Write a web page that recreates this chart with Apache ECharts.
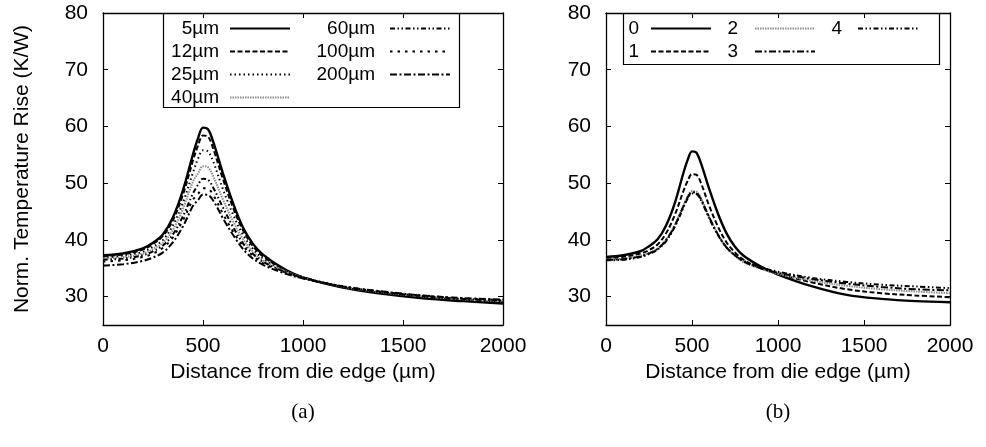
<!DOCTYPE html>
<html>
<head>
<meta charset="utf-8">
<script src="https://cdn.jsdelivr.net/npm/echarts@6/dist/echarts.min.js"></script>
<style>
  html, body { margin: 0; padding: 0; background: #fff; }
  #chart { width: 986px; height: 447px; }
</style>
</head>
<body>
<div id="chart"></div>
<script>
// Distance from die edge (µm) at which every curve is sampled
const distance = [0, 100, 200, 250, 300, 350, 400, 450, 475, 500, 525, 550, 600, 650, 700, 750, 800, 900, 1000, 1200, 1400, 1600, 1800, 2000];
const xTicks = [0, 500, 1000, 1500, 2000];
const yTicks = [30, 40, 50, 60, 70, 80];

// Panel (a): normalised temperature rise (K/W) per thickness
const namesA = ['5µm', '12µm', '25µm', '40µm', '60µm', '100µm', '200µm'];
const a5   = [37.3, 37.6, 38.5, 39.5, 41.0, 44.0, 48.8, 55.1, 57.9, 59.8, 59.5, 57.4, 51.7, 46.5, 42.2, 39.3, 37.4, 35.0, 33.4, 31.6, 30.5, 29.7, 29.2, 28.8];
const a12  = [37.1, 37.45, 38.3, 39.3, 40.7, 43.5, 48.0, 54.0, 56.6, 58.4, 58.2, 56.2, 50.7, 45.7, 41.7, 38.9, 37.1, 34.9, 33.4, 31.65, 30.6, 29.85, 29.35, 29.0];
const a25  = [36.9, 37.2, 37.9, 38.8, 40.0, 42.6, 46.6, 51.9, 54.3, 55.8, 55.6, 53.9, 48.9, 44.5, 40.9, 38.4, 36.7, 34.8, 33.4, 31.7, 30.7, 29.95, 29.45, 29.1];
const a40  = [36.7, 36.95, 37.6, 38.4, 39.5, 41.8, 45.5, 50.3, 51.7, 53.0, 52.8, 51.3, 47.1, 43.3, 40.1, 37.9, 36.4, 34.65, 33.35, 31.75, 30.75, 30.05, 29.55, 29.2];
const a60  = [36.5, 36.7, 37.3, 38.0, 39.0, 41.0, 44.2, 48.2, 49.7, 50.8, 50.6, 49.3, 45.7, 42.3, 39.4, 37.5, 36.15, 34.5, 33.35, 31.8, 30.8, 30.1, 29.6, 29.3];
const a100 = [36.2, 36.4, 37.0, 37.6, 38.6, 40.5, 43.5, 47.1, 48.1, 49.1, 49.0, 48.0, 44.6, 41.5, 38.95, 37.2, 35.9, 34.4, 33.3, 31.8, 30.85, 30.15, 29.7, 29.4];
const a200 = [35.5, 35.7, 36.3, 36.9, 37.8, 39.6, 42.4, 46.0, 47.0, 48.0, 47.9, 47.0, 43.8, 40.9, 38.4, 36.7, 35.6, 34.2, 33.2, 31.8, 30.9, 30.2, 29.75, 29.5];

// Panel (b): normalised temperature rise (K/W) per case 0..4
const namesB = ['0', '1', '2', '3', '4'];
const b0 = [37.0, 37.3, 38.0, 38.9, 40.1, 42.6, 46.5, 51.8, 54.1, 55.6, 55.4, 53.7, 49.0, 44.7, 41.2, 38.8, 37.2, 35.3, 33.9, 31.8, 30.3, 29.6, 29.2, 29.0];
const b1 = [36.8, 37.0, 37.6, 38.2, 39.2, 41.2, 44.4, 48.6, 50.4, 51.6, 51.5, 50.2, 46.0, 42.4, 39.6, 37.8, 36.5, 35.0, 34.0, 32.5, 31.3, 30.6, 30.2, 29.9];
const b2 = [36.6, 36.7, 37.2, 37.7, 38.5, 40.1, 42.7, 46.1, 47.7, 48.6, 48.5, 47.5, 44.1, 41.0, 38.7, 37.2, 36.1, 34.9, 34.0, 32.8, 31.9, 31.3, 30.9, 30.6];
const b3 = [36.5, 36.6, 37.1, 37.6, 38.4, 40.0, 42.5, 45.9, 47.5, 48.4, 48.3, 47.3, 44.0, 41.0, 38.7, 37.3, 36.2, 35.0, 34.2, 33.1, 32.3, 31.7, 31.3, 31.1];
const b4 = [36.4, 36.5, 37.0, 37.5, 38.3, 39.8, 42.3, 45.7, 47.3, 48.2, 48.1, 47.1, 43.8, 40.9, 38.7, 37.3, 36.3, 35.2, 34.4, 33.3, 32.6, 32.1, 31.8, 31.5];

const SANS = 'Liberation Sans, Arial, sans-serif';
const SERIF = 'Liberation Serif, Times New Roman, serif';

// gnuplot-like line styles
const styles = {
  solid:      { color: '#000', width: 2.4, type: 'solid' },
  dash:       { color: '#000', width: 2, type: [5, 2.5] },
  dot:        { color: '#000', width: 2, type: [1.5, 3] },
  grey:       { color: '#8c8c8c', width: 2, type: [1.5, 1] },
  dashDotDot: { color: '#000', width: 2, type: [5, 2.5, 1.5, 2.5, 1.5, 2.5] },
  sparse:     { color: '#000', width: 2, type: [2.5, 5] },
  dashDot:    { color: '#000', width: 2, type: [7, 2.5, 2, 2.5] }
};

function curve(name, values, style, panel) {
  return {
    name: name,
    type: 'line',
    xAxisIndex: panel * 2,
    yAxisIndex: panel * 2,
    data: distance.map((d, i) => [d, values[i]]),
    symbol: 'none',
    smooth: 0.35,
    color: style.color,
    lineStyle: { color: style.color, width: style.width, type: style.type },
    emphasis: { disabled: true },
    animation: false
  };
}

const frameLine = { show: true, onZero: false, lineStyle: { color: '#000', width: 1.3 } };
const tickStyle = { inside: true, length: 5, lineStyle: { color: '#000', width: 1 } };

function xAxes(grid) {
  return [
    {
      gridIndex: grid, type: 'value', min: 0, max: 2000, interval: 500,
      axisLine: frameLine, axisTick: tickStyle, splitLine: { show: false },
      axisLabel: { color: '#000', fontFamily: SANS, fontSize: 21, margin: 11,
                   customValues: xTicks, formatter: v => String(v) },
      name: 'Distance from die edge (µm)', nameLocation: 'middle', nameGap: 33,
      nameTextStyle: { color: '#000', fontFamily: SANS, fontSize: 21 }
    },
    {
      gridIndex: grid, type: 'value', min: 0, max: 2000, interval: 500, position: 'top',
      axisLine: frameLine, axisTick: tickStyle, splitLine: { show: false },
      axisLabel: { show: false }
    }
  ];
}

function yAxes(grid, showName) {
  const main = {
    gridIndex: grid, type: 'value', min: 25, max: 80,
    axisLine: frameLine,
    axisTick: Object.assign({ customValues: yTicks }, tickStyle),
    splitLine: { show: false },
    axisLabel: { color: '#000', fontFamily: SANS, fontSize: 21, margin: 15,
                 customValues: yTicks, formatter: v => String(v) }
  };
  if (showName) {
    main.name = 'Norm. Temperature Rise (K/W)';
    main.nameLocation = 'middle';
    main.nameGap = 70;
    main.nameTextStyle = { color: '#000', fontFamily: SANS, fontSize: 21 };
  }
  return [
    main,
    {
      gridIndex: grid, type: 'value', min: 25, max: 80, position: 'right',
      axisLine: frameLine,
      axisTick: Object.assign({ customValues: yTicks }, tickStyle),
      splitLine: { show: false }, axisLabel: { show: false }
    }
  ];
}

// one key column: label right-aligned, line sample to its right
function legendColumn(data, left, textWidth, gapRight) {
  return {
    data: data, orient: 'vertical', align: 'right',
    left: left, top: 17, padding: 0, itemGap: 0,
    itemWidth: 60, itemHeight: 14,
    selectedMode: false,
    itemStyle: { color: 'transparent', borderColor: 'transparent', borderWidth: 0, opacity: 0 },
    textStyle: {
      color: '#000', fontFamily: SANS, fontSize: 19, lineHeight: 23,
      width: textWidth, align: 'right', padding: [0, gapRight, 0, 0]
    }
  };
}

const option = {
  backgroundColor: '#fff',
  animation: false,
  grid: [
    { left: 103, top: 13, width: 400, height: 312 },
    { left: 606, top: 13, width: 344, height: 312 }
  ],
  xAxis: xAxes(0).concat(xAxes(1)),
  yAxis: yAxes(0, true).concat(yAxes(1, false)),
  legend: [
    legendColumn(namesA.slice(0, 4), 169, 50, 6),
    legendColumn(namesA.slice(4), 313, 62, 10),
    legendColumn(namesB.slice(0, 2), 627, 12, 7),
    legendColumn(namesB.slice(2, 4), 726, 12, 12),
    legendColumn(namesB.slice(4), 830, 12, 11)
  ],
  graphic: [
    { type: 'rect', shape: { x: 163.5, y: 13.5, width: 296, height: 94 },
      style: { fill: 'none', stroke: '#000', lineWidth: 1.2 }, z: 10 },
    { type: 'rect', shape: { x: 623.5, y: 13.5, width: 316, height: 51 },
      style: { fill: 'none', stroke: '#000', lineWidth: 1.2 }, z: 10 },
    { type: 'text', x: 303, y: 412, style: { text: '(a)', fill: '#000', font: '21px ' + SERIF,
      textAlign: 'center', textVerticalAlign: 'middle' } },
    { type: 'text', x: 778, y: 412, style: { text: '(b)', fill: '#000', font: '21px ' + SERIF,
      textAlign: 'center', textVerticalAlign: 'middle' } }
  ],
  series: [
    curve(namesA[0], a5, styles.solid, 0),
    curve(namesA[1], a12, styles.dash, 0),
    curve(namesA[2], a25, styles.dot, 0),
    curve(namesA[3], a40, styles.grey, 0),
    curve(namesA[4], a60, styles.dashDotDot, 0),
    curve(namesA[5], a100, styles.sparse, 0),
    curve(namesA[6], a200, styles.dashDot, 0),
    curve(namesB[0], b0, styles.solid, 1),
    curve(namesB[1], b1, styles.dash, 1),
    curve(namesB[2], b2, styles.grey, 1),
    curve(namesB[3], b3, styles.dashDot, 1),
    curve(namesB[4], b4, styles.dashDotDot, 1)
  ]
};

const chart = echarts.init(document.getElementById('chart'), null, { renderer: 'canvas' });
chart.setOption(option);
</script>
</body>
</html>
